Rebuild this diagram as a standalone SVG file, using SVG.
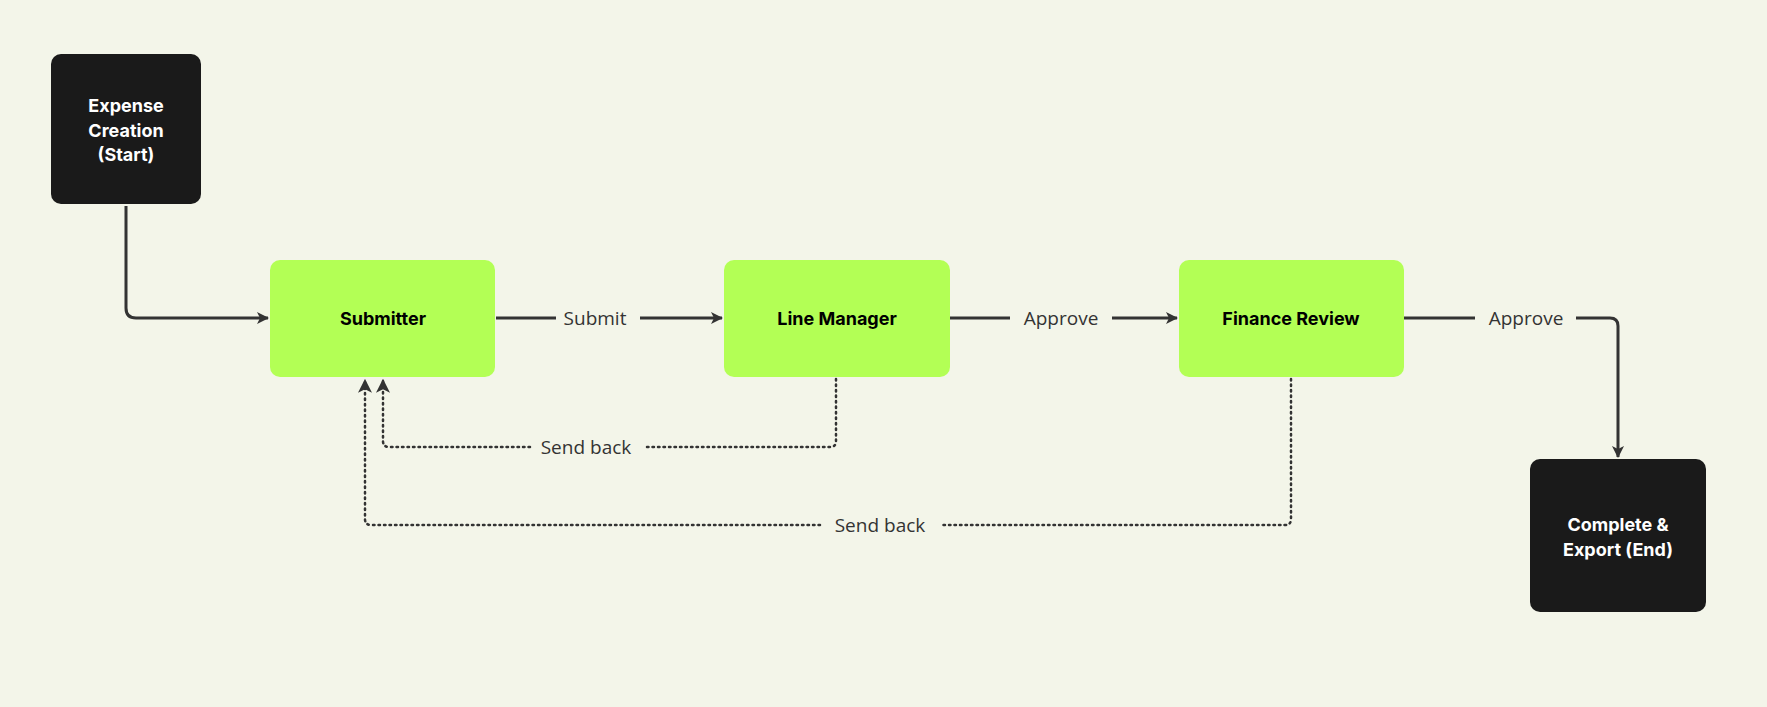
<svg xmlns="http://www.w3.org/2000/svg" width="1767" height="707" viewBox="0 0 1767 707">
<style>
.dark{fill:#1a1a1a}
.green{fill:#b3ff55}
.nt{font-family:Inter,"Liberation Sans",sans-serif;font-weight:700;font-size:18px;text-anchor:middle}
.lbl{font-family:"Open Sans","Liberation Sans",sans-serif;font-size:19px;fill:#333;text-anchor:middle}
.ln{fill:none;stroke:#333;stroke-width:3}
.dot{fill:none;stroke:#333;stroke-width:2.5;stroke-dasharray:1.5 4;stroke-linecap:round}
.bg{fill:#f3f5e9}
</style>
<defs>
<marker id="ah" viewBox="0 0 12 12" refX="11" refY="6" markerWidth="12" markerHeight="12" markerUnits="userSpaceOnUse" orient="auto">
<path d="M0,0 L12,6 L0,12 L3,6 Z" fill="#333"/>
</marker>
<marker id="ahs" viewBox="0 0 12 12" refX="11" refY="6" markerWidth="14" markerHeight="14" markerUnits="userSpaceOnUse" orient="auto">
<path d="M0,0 L12,6 L0,12 L3,6 Z" fill="#333"/>
</marker>
</defs>
<rect class="bg" width="1767" height="707"/>
<g id="connectors">
<path class="ln" d="M126,206 V308 Q126,318 136,318 H268" marker-end="url(#ah)"/>
<path class="ln" d="M496,318 H556 M640,318 H722" marker-end="url(#ah)"/>
<path class="ln" d="M950,318 H1010 M1112,318 H1177" marker-end="url(#ah)"/>
<path class="ln" d="M1404,318 H1475 M1576,318 H1610 Q1618,318 1618,326 V457" marker-end="url(#ah)"/>
<path class="dot" d="M836,379 V441 Q836,447 830,447 H645 M530,447 H389 Q383,447 383,441 V380" marker-end="url(#ahs)"/>
<path class="dot" d="M1291,379 V519 Q1291,525 1285,525 H940 M820,525 H371 Q365,525 365,519 V380" marker-end="url(#ahs)"/>
<text class="lbl" x="595" y="325">Submit</text>
<text class="lbl" x="1061" y="325">Approve</text>
<text class="lbl" x="1526" y="325">Approve</text>
<text class="lbl" x="586" y="454">Send back</text>
<text class="lbl" x="880" y="532">Send back</text>
</g>
<g id="start"><rect class="dark" x="51" y="54" width="150" height="150" rx="10"/>
<text class="nt" fill="#fff" x="126" y="112">Expense</text><text class="nt" fill="#fff" x="126" y="137">Creation</text><text class="nt" fill="#fff" x="126" y="161">(Start)</text></g>
<g id="submitter"><rect class="green" x="270" y="260" width="225" height="117" rx="10"/><text class="nt" x="383" y="325">Submitter</text></g>
<g id="linemanager"><rect class="green" x="724" y="260" width="226" height="117" rx="10"/><text class="nt" x="837" y="325">Line Manager</text></g>
<g id="finance"><rect class="green" x="1179" y="260" width="225" height="117" rx="10"/><text class="nt" x="1291" y="325">Finance Review</text></g>
<g id="end"><rect class="dark" x="1530" y="459" width="176" height="153" rx="10"/>
<text class="nt" fill="#fff" x="1618" y="531">Complete &amp;</text><text class="nt" fill="#fff" x="1618" y="556">Export  (End)</text></g>
</svg>
